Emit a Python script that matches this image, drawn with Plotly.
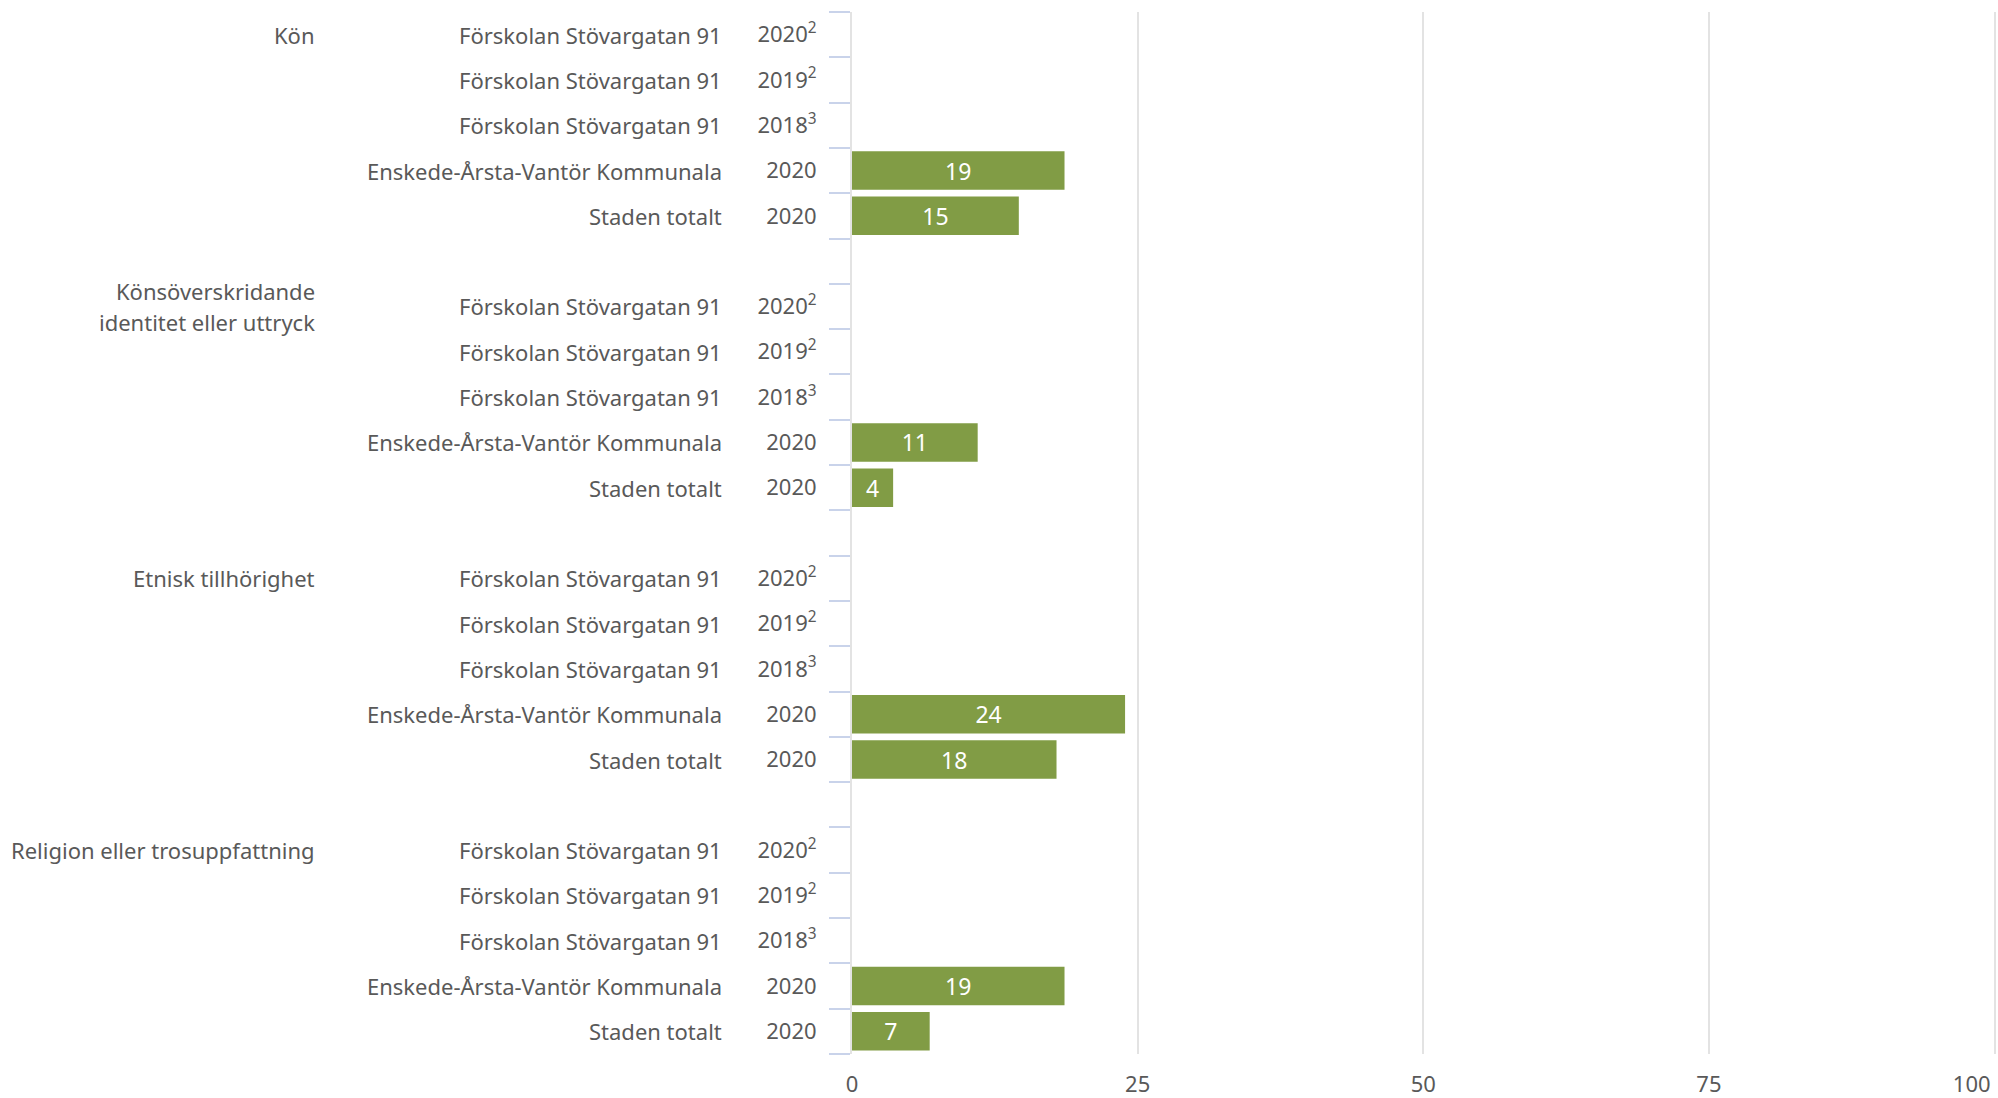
import plotly.graph_objects as go

# ---- data ----
groups = ["Kön", "Könsöverskridande<br>identitet eller uttryck",
          "Etnisk tillhörighet", "Religion eller trosuppfattning"]
units = ["Förskolan Stövargatan 91", "Förskolan Stövargatan 91",
         "Förskolan Stövargatan 91", "Enskede-Årsta-Vantör Kommunala",
         "Staden totalt"]
years = ["2020", "2019", "2018", "2020", "2020"]
notes = ["2", "2", "3", "", ""]
values = {
    "Kön": [None, None, None, 18.6, 14.6],
    "Könsöverskridande<br>identitet eller uttryck": [None, None, None, 11.0, 3.6],
    "Etnisk tillhörighet": [None, None, None, 23.9, 17.9],
    "Religion eller trosuppfattning": [None, None, None, 18.6, 6.8],
}
x_ticks = [0, 25, 50, 75, 100]

TEXT = "#595959"
FONT = "Noto Sans"
GREEN = "#819C45"
FS = 22

cats, ticktext, xs = [], [], []
unit_rows = []
group_rows = []
for gi, g in enumerate(groups):
    for ri, (u, yr, n) in enumerate(zip(units, years, notes)):
        cid = f"{gi}|{ri}"
        cats.append(cid)
        ticktext.append(yr + (f"<sup>{n}</sup>" if n else ""))
        xs.append(values[g][ri])
        unit_rows.append((cid, u))
        if ri == 0:
            group_rows.append((cid, g))
    if gi < len(groups) - 1:
        cid = f"gap{gi}"
        cats.append(cid)
        ticktext.append("")
        xs.append(None)

# last x tick label is nudged left (padded) so it stays inside the figure
x_ticktext = [str(v) for v in x_ticks]
x_ticktext[-1] = x_ticktext[-1] + "\u00a0" * 8

fig = go.Figure(go.Bar(
    x=xs, y=cats, orientation="h",
    marker=dict(color=GREEN, line=dict(width=0)),
    texttemplate="%{x:.0f}", textposition="inside",
    insidetextanchor="middle", constraintext="none", textangle=0,
    textfont=dict(color="white", size=23, family=FONT),
    hoverinfo="skip",
))

W, H = 1998, 1098
L, R, T, B = 852, 0, 12, 44
plot_w = W - L - R

annos = []
for cid, u in unit_rows:
    annos.append(dict(x=(724 - L) / plot_w, xref="paper", y=cid, yref="y",
                      text=u, showarrow=False, xanchor="right",
                      font=dict(size=FS, color=TEXT, family=FONT)))
for cid, g in group_rows:
    lines = g.split("<br>")
    n = len(lines)
    for li, line in enumerate(lines):
        annos.append(dict(x=(317 - L) / plot_w, xref="paper", y=cid, yref="y",
                          text=line, showarrow=False, xanchor="right",
                          yshift=((n - 1) / 2 - li) * 31,
                          font=dict(size=FS, color=TEXT, family=FONT)))

fig.update_layout(
    width=W, height=H,
    margin=dict(l=L, r=R, t=T, b=B, autoexpand=False),
    plot_bgcolor="white", paper_bgcolor="white",
    bargap=0.15, showlegend=False,
    font=dict(family=FONT, size=FS, color=TEXT),
    annotations=annos,
    xaxis=dict(range=[0, 100.3], tickmode="array", tickvals=x_ticks,
               ticktext=x_ticktext, automargin=False,
               showgrid=True, gridcolor="#e3e3e3", gridwidth=2,
               zeroline=False, showline=False, ticks="",
               ticklabeloverflow="allow",
               ticklabelstandoff=15, tickfont=dict(size=FS, color=TEXT, family=FONT)),
    yaxis=dict(type="category", categoryorder="array", categoryarray=cats,
               tickmode="array", tickvals=cats, ticktext=ticktext,
               range=[len(cats) - 0.5, -0.5], tickson="boundaries",
               automargin=False,
               ticks="outside", ticklen=21, tickwidth=2, tickcolor="#c9d3ea",
               showgrid=False, showline=True, linecolor="#e3e3e3", linewidth=2,
               ticklabelstandoff=29,
               tickfont=dict(size=FS, color=TEXT, family=FONT)),
)

fig.write_html(
    "out.html",
    config={"displayModeBar": False},
    post_script="document.body.style.margin='0';document.body.style.overflow='hidden';",
)
